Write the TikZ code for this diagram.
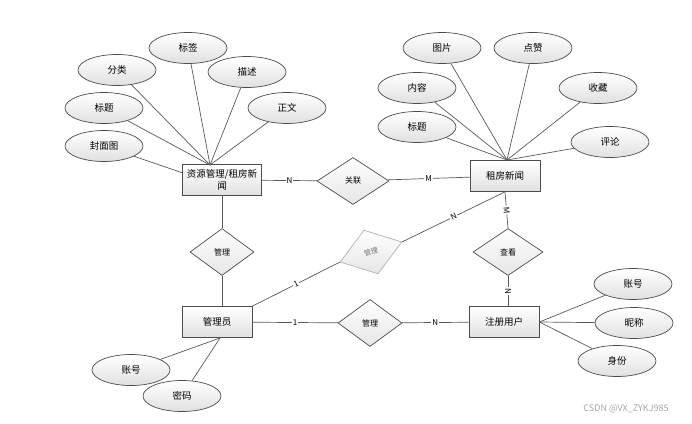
\documentclass[tikz,border=0pt]{standalone}
\usepackage{fontspec}
\setmainfont{Noto Sans CJK SC}
\usetikzlibrary{shapes.geometric}

\begin{document}
\begin{tikzpicture}[x=1pt,y=-1pt,line width=0.7pt,
	entity/.style={ rectangle, draw=black!70, top color=white, bottom color=black!12, minimum width=70pt, minimum height=31pt, inner sep=1pt, font=\fontsize{9.5}{12}\selectfont },
	attr/.style={ ellipse, draw=black!70, top color=white, bottom color=black!12, minimum width=78pt, minimum height=31pt, inner sep=0pt, font=\fontsize{9.5}{11}\selectfont },
	rel/.style={ diamond, draw=black!70, top color=white, bottom color=black!10, minimum width=64pt, minimum height=47pt, inner sep=0pt, font=\fontsize{8}{9}\selectfont },
	card/.style={ fill=white, inner sep=1pt, font=\fontsize{8}{9}\selectfont },
	conn/.style={ draw=black!65 }
]
\useasboundingbox (0,0) rectangle (692,423);

% entities
\node[entity, minimum width=79pt, align=center] (res) at (222,180) {资源管理/租房新\\闻};
\node[entity] (news) at (505,176) {租房新闻};
\node[entity] (admin) at (217,322) {管理员};
\node[entity] (user) at (504,322) {注册用户};

% relations
\node[rel, minimum width=72pt] (link) at (353,181) {关联};
\node[rel] (manage1) at (222,252) {管理};
\node[rel, rotate=18, draw=black!30, minimum width=65pt, minimum height=46pt, text=black!55, font=\fontsize{7}{8}\selectfont] (manage2) at (371,252) {管理};
\node[rel] (manage3) at (370,323) {管理};
\node[rel, minimum width=70pt] (view) at (508,252) {查看};

% attributes of res
\node[attr] (tag) at (188,48) {标签};
\node[attr] (cat) at (117,70) {分类};
\node[attr] (desc) at (247,72) {描述};
\node[attr] (title) at (104,108) {标题};
\node[attr] (body) at (287,108) {正文};
\node[attr] (cover) at (104,146) {封面图};
\coordinate (resTop) at (210,165);
\coordinate (resLeft) at (183,173);
\foreach \a in {tag,cat,desc,title,body}
  \draw[conn] (\a) -- (resTop);
\draw[conn] (cover) -- (resLeft);

% attributes of news
\node[attr] (pic) at (442,48) {图片};
\node[attr] (like) at (533,48) {点赞};
\node[attr] (content) at (417,88) {内容};
\node[attr] (fav) at (598,88) {收藏};
\node[attr] (ntitle) at (417,127) {标题};
\node[attr] (comment) at (610,142) {评论};
\coordinate (newsTop) at (507,160);
\foreach \a in {pic,like,content,fav,ntitle,comment}
  \draw[conn] (\a) -- (newsTop);

% attributes of user
\node[attr] (uacc) at (633,284) {账号};
\node[attr] (nick) at (634,323) {昵称};
\node[attr] (role) at (617,361) {身份};
\foreach \a in {uacc,nick,role}
  \draw[conn] (user.east) -- (\a);

% attributes of admin
\coordinate (adminBot) at (220,338);
\node[attr] (aacc) at (131,370) {账号};
\node[attr] (pwd) at (182,396) {密码};
\draw[conn] (adminBot) -- (aacc);
\draw[conn] (adminBot) -- (pwd);

% relationships
\draw[conn] (res) -- node[card] {N} (link);
\draw[conn] (link) -- node[card] {M} (news);
\draw[conn] (res) -- (manage1);
\draw[conn] (manage1) -- (admin.north -| manage1);
\draw[conn] (admin.north east) -- node[card, sloped] {1} (manage2.west);
\draw[conn] (manage2.east) -- node[card, sloped] {N} (news.south);
\draw[conn] (admin) -- node[card] {1} (manage3);
\draw[conn] (manage3) -- node[card] {N} (user);
\draw[conn] (news.south) -- node[card, sloped] {M} (view.north);
\draw[conn] (view.south) -- node[card, sloped] {N} (view.south |- user.north);

\node[text=black!35, font=\fontsize{9}{10}\selectfont] (wm) at (626,409) {CSDN @VX\_ZYKJ985};
\end{tikzpicture}
\end{document}
